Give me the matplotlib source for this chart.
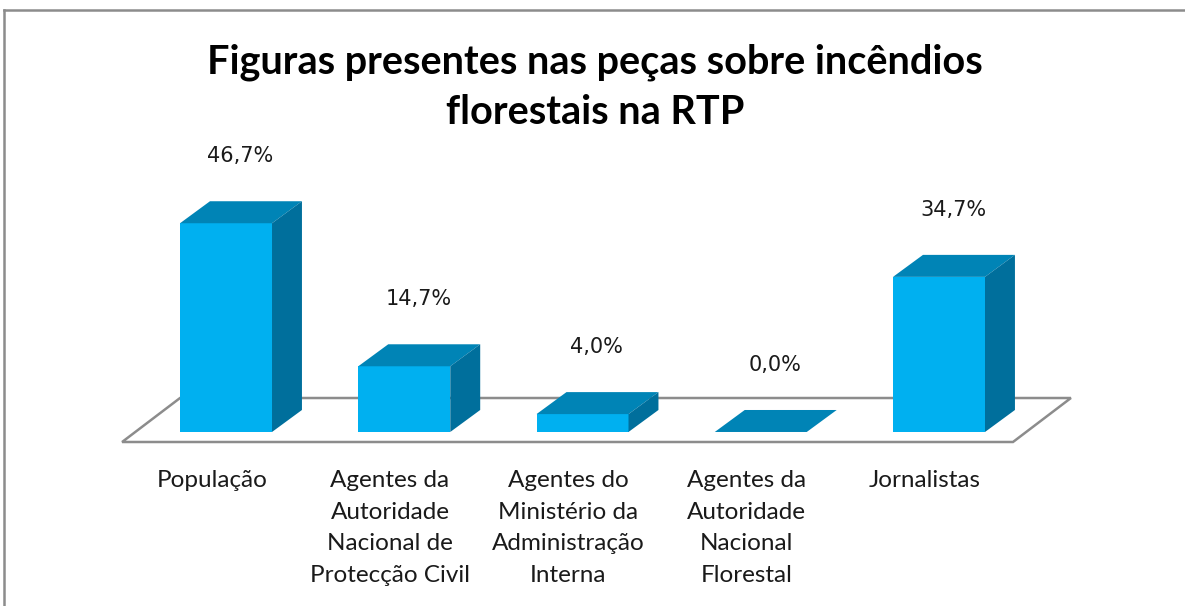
import matplotlib.pyplot as plt
from matplotlib.patches import Polygon
from matplotlib.lines import Line2D
import numpy as np

# data
categories = ["População",
              "Agentes da\nAutoridade\nNacional de\nProtecção Civil",
              "Agentes do\nMinistério da\nAdministração\nInterna",
              "Agentes da\nAutoridade\nNacional\nFlorestal",
              "Jornalistas"]
values = [46.7, 14.7, 4.0, 0.0, 34.7]
value_labels = ["46,7%", "14,7%", "4,0%", "0,0%", "34,7%"]
title = "Figuras presentes nas peças sobre incêndios\nflorestais na RTP"

# colours
front_col = '#00b0f0'
top_col = '#0084b6'
side_col = '#006f9c'
grid_col = '#8c8c8c'

plt.rcParams['font.family'] = ['Lato', 'DejaVu Sans']

fig = plt.figure(figsize=(11.85, 6.06), dpi=100)
ax = fig.add_axes([0, 0, 1, 1])
ax.set_xlim(-1.268, 5.380)
ax.set_ylim(-38.93, 96.64)
ax.axis('off')

# 3d look: depth offsets in data units
bw = 0.516      # bar width
dx, dy = 0.168, 4.92

# floor
fx0, fx1 = -0.583, 4.415
fy0, fy1 = -2.24, 7.6
fdx = 0.325
floor = Polygon([(fx0, fy0), (fx1, fy0), (fx1 + fdx, fy1), (fx0 + fdx, fy1)],
                closed=True, facecolor='white', edgecolor=grid_col, lw=1.8, zorder=1)
ax.add_patch(floor)

x = np.arange(len(values))
ax.bar(x, values, width=bw, color=front_col, edgecolor='none', zorder=3)
for xi, v in zip(x, values):
    l, r = xi - bw / 2, xi + bw / 2
    top = Polygon([(l, v), (r, v), (r + dx, v + dy), (l + dx, v + dy)],
                  closed=True, facecolor=top_col, edgecolor='none', zorder=3)
    ax.add_patch(top)
    if v > 0:
        side = Polygon([(r, 0), (r + dx, dy), (r + dx, v + dy), (r, v)],
                       closed=True, facecolor=side_col, edgecolor='none', zorder=3)
        ax.add_patch(side)
    ax.text(xi + 0.08, v + 15, value_labels[int(xi)], ha='center', va='center',
            fontsize=15, color='#1a1a1a', family='DejaVu Sans')

for xi, c in zip(x, categories):
    ax.text(xi - 0.08, -8.5, c, ha='center', va='top', fontsize=17.5,
            linespacing=1.62, color='#1a1a1a')

fig.text(595 / 1185, 1 - 87 / 606, title, ha='center', va='center',
         fontsize=28.5, fontweight='bold', linespacing=1.42)

# chart border (top and left)
fig.add_artist(Line2D([4 / 1185, 1], [1 - 10 / 606, 1 - 10 / 606],
                      transform=fig.transFigure, color=grid_col, lw=1.8))
fig.add_artist(Line2D([4 / 1185, 4 / 1185], [0, 1 - 10 / 606],
                      transform=fig.transFigure, color=grid_col, lw=1.8))

fig.savefig('out.png', dpi=100)
